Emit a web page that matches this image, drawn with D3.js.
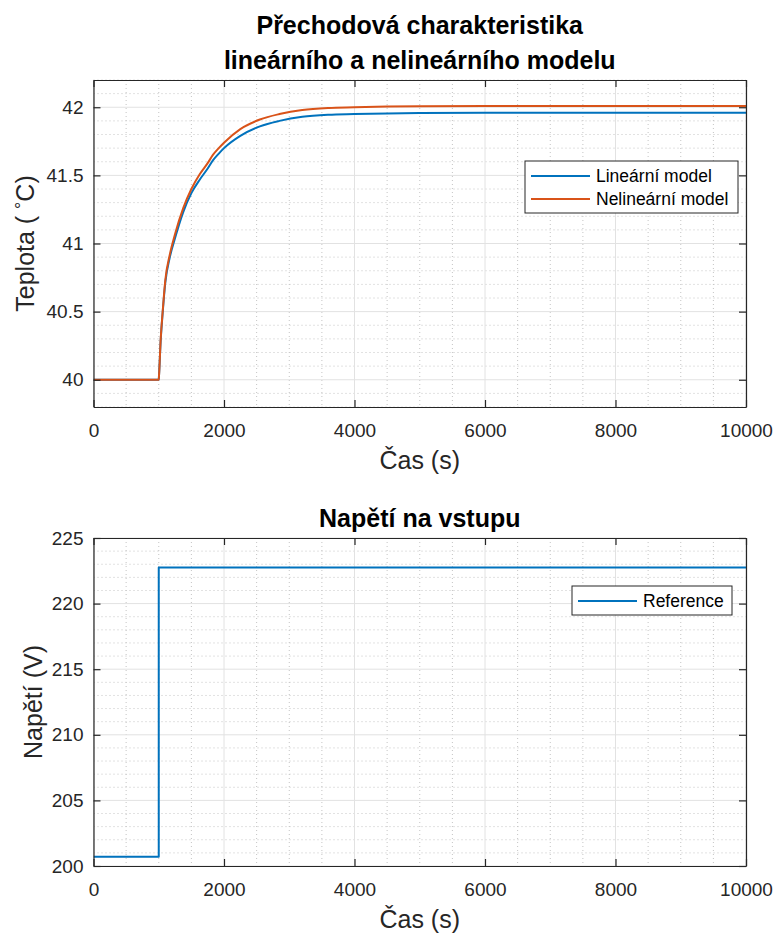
<!DOCTYPE html>
<html>
<head>
<meta charset="utf-8">
<script src="https://cdn.jsdelivr.net/npm/d3@7"></script>
<style>
  body { margin: 0; background: #fff; }
  svg { font-family: "Liberation Sans", Arial, Helvetica, sans-serif; }
</style>
</head>
<body>
<div id="chart"></div>
<script>
// time samples (s)
const timeTop = [0, 1000, 1004, 1030, 1060, 1100, 1170, 1250, 1375, 1500, 1630, 1750, 1830, 1920, 2000,
    2250, 2550, 2850, 3200, 3600, 4000, 4500, 5000, 6000, 7000, 8000, 10000];
const linearModel = [40, 40, 40.03, 40.29, 40.49, 40.71, 40.90, 41.04, 41.23, 41.37, 41.47, 41.55, 41.61, 41.66, 41.70,
    41.79, 41.86, 41.90, 41.93, 41.945, 41.95, 41.955, 41.958, 41.96, 41.96, 41.96, 41.96];
const nonlinearModel = [40, 40, 40.03, 40.30, 40.50, 40.73, 40.92, 41.07, 41.26, 41.40, 41.51, 41.59, 41.65, 41.70, 41.74,
    41.84, 41.91, 41.95, 41.98, 41.995, 42.0, 42.005, 42.008, 42.01, 42.01, 42.01, 42.01];

const timeInput = [0, 1000, 10000];
const inputVoltage = [200.7, 222.75, 222.75];

const xTicks = [0, 2000, 4000, 6000, 8000, 10000];
const yTicksTop = [40, 40.5, 41, 41.5, 42];
const yTicksBottom = [200, 205, 210, 215, 220, 225];

const blue = '#0072BD';
const orange = '#D95319';

const width = 776;
const height = 935;

const svg = d3.select('#chart')
    .append('svg')
    .attr('width', width)
    .attr('height', height);

function drawPanel(cfg) {
    const x = d3.scaleLinear().domain([0, 10000]).range([93.5, 746]);
    const y = d3.scaleLinear().domain(cfg.yDomain).range([cfg.bottom, cfg.top]);
    const g = svg.append('g');

    const clipId = 'clip' + cfg.id;
    g.append('clipPath').attr('id', clipId)
        .append('rect')
        .attr('x', x.range()[0]).attr('y', cfg.top)
        .attr('width', x.range()[1] - x.range()[0])
        .attr('height', cfg.bottom - cfg.top);

    // minor grid (dotted)
    const xMinor = d3.range(0, 10001, 500).filter(v => v % 2000 !== 0);
    const yMinor = d3.range(cfg.yDomain[0], cfg.yDomain[1] + 1e-9, cfg.minorStep)
        .filter(v => !cfg.yTicks.some(t => Math.abs(t - v) < 1e-6));
    g.selectAll('.xminor').data(xMinor).enter().append('line')
        .attr('x1', d => x(d)).attr('x2', d => x(d))
        .attr('y1', cfg.top).attr('y2', cfg.bottom)
        .attr('stroke', '#c4c4c4').attr('stroke-width', 1)
        .attr('stroke-dasharray', '1,3');
    g.selectAll('.yminor').data(yMinor).enter().append('line')
        .attr('x1', x.range()[0]).attr('x2', x.range()[1])
        .attr('y1', d => y(d)).attr('y2', d => y(d))
        .attr('stroke', '#c4c4c4').attr('stroke-width', 1)
        .attr('stroke-dasharray', '1,3');

    // major grid
    g.selectAll('.xmajor').data(xTicks).enter().append('line')
        .attr('x1', d => x(d)).attr('x2', d => x(d))
        .attr('y1', cfg.top).attr('y2', cfg.bottom)
        .attr('stroke', '#e2e2e2').attr('stroke-width', 1);
    g.selectAll('.ymajor').data(cfg.yTicks).enter().append('line')
        .attr('x1', x.range()[0]).attr('x2', x.range()[1])
        .attr('y1', d => y(d)).attr('y2', d => y(d))
        .attr('stroke', '#e2e2e2').attr('stroke-width', 1);

    // data lines
    const lines = g.append('g').attr('clip-path', `url(#${clipId})`);
    cfg.series.forEach(s => {
        const pts = s.t.map((t, i) => [t, s.v[i]]);
        lines.append('path')
            .datum(pts)
            .attr('fill', 'none')
            .attr('stroke', s.color)
            .attr('stroke-width', 2)
            .attr('stroke-linejoin', 'round')
            .attr('d', d3.line()
                .x(d => x(d[0]))
                .y(d => y(d[1]))
                .curve(s.step ? d3.curveStepAfter : d3.curveMonotoneX));
    });

    // axes with inward ticks on all four sides
    const axisStyle = sel => {
        sel.select('.domain').attr('stroke', '#262626').attr('stroke-width', 1.2);
        sel.selectAll('.tick line').attr('stroke', '#262626').attr('stroke-width', 1.2);
        sel.selectAll('.tick text').attr('fill', '#262626')
            .style('font-size', '19px');
    };
    g.append('g')
        .attr('transform', `translate(0,${cfg.bottom})`)
        .call(d3.axisBottom(x).tickValues(xTicks).tickSize(-7).tickSizeOuter(0)
            .tickPadding(17).tickFormat(d3.format('d')))
        .call(axisStyle);
    g.append('g')
        .attr('transform', `translate(0,${cfg.top})`)
        .call(d3.axisTop(x).tickValues(xTicks).tickSize(-7).tickSizeOuter(0).tickFormat(''))
        .call(axisStyle);
    g.append('g')
        .attr('transform', `translate(${x.range()[0]},0)`)
        .call(d3.axisLeft(y).tickValues(cfg.yTicks).tickSize(-7).tickSizeOuter(0)
            .tickPadding(10).tickFormat(d => String(d)))
        .call(axisStyle);
    g.append('g')
        .attr('transform', `translate(${x.range()[1]},0)`)
        .call(d3.axisRight(y).tickValues(cfg.yTicks).tickSize(-7).tickSizeOuter(0).tickFormat(''))
        .call(axisStyle);

    // titles
    cfg.title.forEach((line, i) => {
        g.append('text')
            .attr('x', (x.range()[0] + x.range()[1]) / 2)
            .attr('y', cfg.titleY + i * 35)
            .attr('text-anchor', 'middle')
            .style('font-size', '25px')
            .style('font-weight', 'bold')
            .attr('fill', '#000')
            .text(line);
    });

    g.append('text')
        .attr('x', (x.range()[0] + x.range()[1]) / 2)
        .attr('y', cfg.bottom + 62)
        .attr('text-anchor', 'middle')
        .style('font-size', '25px')
        .attr('fill', '#262626')
        .text('Čas (s)');

    const yl = g.append('text')
        .attr('transform', `translate(${cfg.ylabelX},${(cfg.top + cfg.bottom) / 2}) rotate(-90)`)
        .attr('text-anchor', 'middle')
        .style('font-size', '25px')
        .attr('fill', '#262626');
    cfg.ylabel(yl);

    // legend
    const lg = g.append('g');
    lg.append('rect')
        .attr('x', cfg.legend.x).attr('y', cfg.legend.y)
        .attr('width', cfg.legend.w).attr('height', cfg.legend.h)
        .attr('fill', '#fff').attr('stroke', '#262626').attr('stroke-width', 1);
    cfg.series.forEach((s, i) => {
        const cy = cfg.legend.y + 15 + i * 23;
        lg.append('line')
            .attr('x1', cfg.legend.x + 6).attr('x2', cfg.legend.x + 65)
            .attr('y1', cy).attr('y2', cy)
            .attr('stroke', s.color).attr('stroke-width', 2);
        lg.append('text')
            .attr('x', cfg.legend.x + 71).attr('y', cy)
            .attr('dy', '0.35em')
            .style('font-size', '17.5px')
            .attr('fill', '#000')
            .text(s.name);
    });
}

drawPanel({
    id: 'top',
    top: 80, bottom: 407,
    yDomain: [39.8, 42.2],
    yTicks: yTicksTop,
    minorStep: 0.1,
    title: ['Přechodová charakteristika', 'lineárního a nelineárního modelu'],
    titleY: 34,
    ylabelX: 34,
    ylabel: t => {
        t.append('tspan').text('Teplota ( ');
        t.append('tspan').attr('baseline-shift', '35%').style('font-size', '18px').text('°');
        t.append('tspan').text('C)');
    },
    legend: { x: 525, y: 161, w: 213, h: 52 },
    series: [
        { name: 'Lineární model', t: timeTop, v: linearModel, color: blue },
        { name: 'Nelineární model', t: timeTop, v: nonlinearModel, color: orange }
    ]
});

drawPanel({
    id: 'bottom',
    top: 538, bottom: 866,
    yDomain: [200, 225],
    yTicks: yTicksBottom,
    minorStep: 1,
    title: ['Napětí na vstupu'],
    titleY: 527,
    ylabelX: 42,
    ylabel: t => t.text('Napětí (V)'),
    legend: { x: 572, y: 586, w: 160, h: 29 },
    series: [
        { name: 'Reference', t: timeInput, v: inputVoltage, color: blue, step: true }
    ]
});
</script>
</body>
</html>
